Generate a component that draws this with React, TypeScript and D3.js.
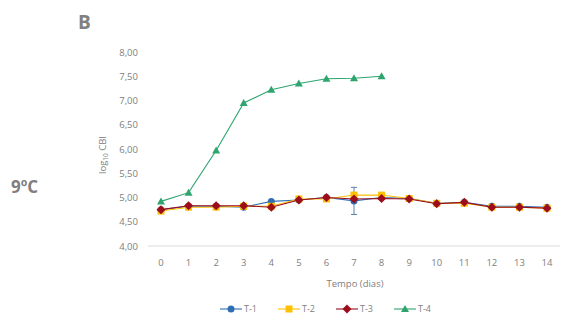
import * as d3 from 'd3';

const days = d3.range(0, 15);
const yTicks = [4, 4.5, 5, 5.5, 6, 6.5, 7, 7.5, 8];

const t1 = [4.75, 4.82, 4.82, 4.8, 4.92, 4.95, 5.0, 4.93, 5.0, 4.98, 4.88, 4.9, 4.82, 4.82, 4.8];
const t2 = [4.72, 4.8, 4.8, 4.82, 4.82, 4.97, 4.97, 5.05, 5.05, 4.98, 4.88, 4.88, 4.8, 4.8, 4.78];
const t3 = [4.75, 4.83, 4.83, 4.83, 4.8, 4.95, 5.0, 4.97, 4.98, 4.97, 4.87, 4.9, 4.8, 4.8, 4.78];
const t4 = [4.92, 5.1, 5.97, 6.95, 7.22, 7.35, 7.45, 7.46, 7.5];
const t1Err = [0, 0, 0, 0, 0, 0, 0, 0.28, 0, 0, 0, 0, 0, 0, 0];

const series = [
  { name: 'T-1', values: t1, color: '#2f6eb5', shape: 'circle' },
  { name: 'T-2', values: t2, color: '#ffc000', shape: 'square' },
  { name: 'T-3', values: t3, color: '#9b0d1c', shape: 'diamond' },
  { name: 'T-4', values: t4, color: '#2ea56e', shape: 'triangle' },
];

const gray = '#808080';
const font = '"Open Sans", "Liberation Sans", sans-serif';

function Marker({ shape, x, y, color }: { shape: string; x: number; y: number; color: string }) {
  if (shape === 'square') return <rect x={x - 3.5} y={y - 3.5} width={7} height={7} fill={color} />;
  if (shape === 'diamond')
    return <path d={`M${x},${y - 4.5}L${x + 4.5},${y}L${x},${y + 4.5}L${x - 4.5},${y}Z`} fill={color} />;
  if (shape === 'triangle')
    return <path d={`M${x},${y - 4}L${x + 4},${y + 3}L${x - 4},${y + 3}Z`} fill={color} />;
  return <circle cx={x} cy={y} r={3.5} fill={color} />;
}

export default function App() {
  const x = d3.scaleLinear().domain([0, 14]).range([161, 547]);
  const y = d3.scaleLinear().domain([4, 8]).range([246, 52]);
  const line = d3
    .line<number>()
    .x((_, i) => x(i))
    .y((d) => y(d));

  return (
    <svg
      width={563}
      height={325}
      style={{ position: 'absolute', left: 0, top: 0, background: '#fff', fontFamily: font }}
    >
      <text x={78} y={29} fontSize={19} fontWeight="bold" fill={gray}>B</text>
      <text x={11} y={193} fontSize={17} fontWeight="bold" fill={gray}>9ºC</text>

      {yTicks.map((t) => (
        <text key={t} x={138} y={y(t) + 3.5} textAnchor="end" fontSize={9.5} fill={gray}>
          {t.toFixed(2).replace('.', ',')}
        </text>
      ))}
      <line x1={148} x2={560} y1={y(4)} y2={y(4)} stroke="#d9d9d9" strokeWidth={1} />

      {days.map((d) => (
        <text key={d} x={x(d)} y={266} textAnchor="middle" fontSize={9.5} fill={gray}>
          {d}
        </text>
      ))}

      <text transform={`translate(106,155) rotate(-90)`} textAnchor="middle" fontSize={9.5} fill={gray}>
        log<tspan fontSize={6.5} dy={2}>10</tspan>
        <tspan dy={-2}> CBI</tspan>
      </text>
      <text x={355} y={287} textAnchor="middle" fontSize={9.5} fill={gray}>Tempo (dias)</text>

      {series.map((s) => (
        <g key={s.name}>
          <path d={line(s.values) ?? ''} fill="none" stroke={s.color} strokeWidth={1.1} />
        </g>
      ))}
      {t1Err.map((e, i) =>
        e > 0 ? (
          <g key={i} stroke="#5a7fa8" strokeWidth={1}>
            <line x1={x(i)} x2={x(i)} y1={y(t1[i] + e)} y2={y(t1[i] - e)} />
            <line x1={x(i) - 3} x2={x(i) + 3} y1={y(t1[i] + e)} y2={y(t1[i] + e)} />
            <line x1={x(i) - 3} x2={x(i) + 3} y1={y(t1[i] - e)} y2={y(t1[i] - e)} />
          </g>
        ) : null
      )}
      {series.map((s) => (
        <g key={s.name + 'm'}>
          {s.values.map((v, i) => (
            <Marker key={i} shape={s.shape} x={x(i)} y={y(v)} color={s.color} />
          ))}
        </g>
      ))}

      {series.map((s, i) => {
        const lx = 220 + i * 58;
        return (
          <g key={s.name + 'l'}>
            <line x1={lx} x2={lx + 22} y1={309} y2={309} stroke={s.color} strokeWidth={1.1} />
            <Marker shape={s.shape} x={lx + 11} y={309} color={s.color} />
            <text x={lx + 24} y={312} fontSize={9} fill={gray}>{s.name}</text>
          </g>
        );
      })}
    </svg>
  );
}
